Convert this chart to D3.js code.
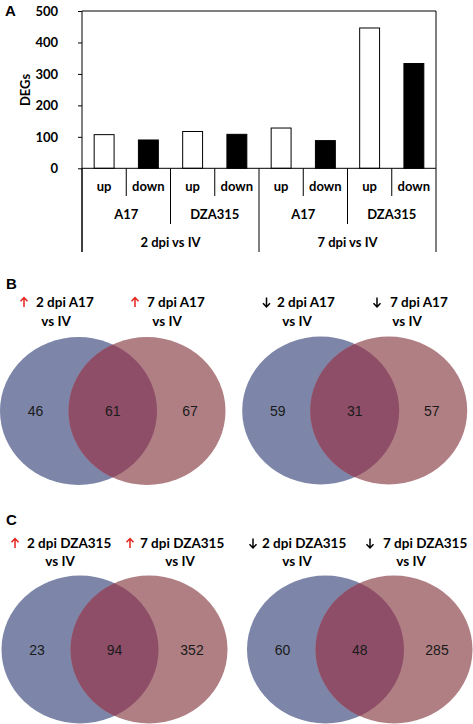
<!DOCTYPE html>
<html><head><meta charset="utf-8">
<script src="https://cdn.jsdelivr.net/npm/d3@7"></script>
<style>
html,body{margin:0;padding:0;background:#fff;}
svg{display:block;}
</style></head>
<body>
<script>
// ---------- data ----------
const directions = ["up","down","up","down","up","down","up","down"];
const cultivars = ["A17","DZA315","A17","DZA315"];
const timepoints = ["2 dpi vs IV","7 dpi vs IV"];
const degValues = [107, 90, 117, 108, 128, 88, 446, 333];
const yTicks = [0, 100, 200, 300, 400, 500];

const vennTitlesB = [["up","2 dpi A17"],["up","7 dpi A17"],["down","2 dpi A17"],["down","7 dpi A17"]];
const vennTitlesC = [["up","2 dpi DZA315"],["up","7 dpi DZA315"],["down","2 dpi DZA315"],["down","7 dpi DZA315"]];
const vennCountsB = [[46, 61, 67], [59, 31, 57]];
const vennCountsC = [[23, 94, 352], [60, 48, 285]];

(function () {
// ---------- setup ----------
const W = 473, H = 724;
const svg = d3.select("body").append("svg").attr("width", W).attr("height", H);
const labelFont = "Lato, 'Open Sans', sans-serif";
const numFont = "'Liberation Sans', Arial, sans-serif";

// ---------- panel A ----------
const pL = 82, pR = 436, pT = 11, pB = 168.3;
const x = d3.scaleBand().domain(d3.range(degValues.length)).range([pL, pR])
  .paddingInner(0.55).paddingOuter(0.275);
const y = d3.scaleLinear().domain([0, 500]).range([pB, pT]);

svg.append("text").attr("x", 5).attr("y", 16).text("A")
  .attr("font-family", "'Liberation Sans', Arial, sans-serif").attr("font-weight", "bold").attr("font-size", 15);

const gA = svg.append("g");
gA.append("line").attr("x1", pL).attr("x2", pR).attr("y1", pT).attr("y2", pT).attr("stroke", "#000");
gA.append("line").attr("x1", pR).attr("x2", pR).attr("y1", pT).attr("y2", pB).attr("stroke", "#000");

const yAxis = d3.axisLeft(y).tickValues(yTicks).tickSize(4).tickPadding(20);
const gy = gA.append("g").attr("transform", `translate(${pL},0)`).call(yAxis);
gy.select(".domain").remove();
gy.selectAll(".tick line").attr("stroke", "#000");
gy.selectAll(".tick text").attr("font-family", labelFont).attr("font-weight", "bold")
  .attr("font-size", 13).attr("fill", "#000");
gA.append("line").attr("x1", pL).attr("x2", pL).attr("y1", pT).attr("y2", 252).attr("stroke", "#000");

svg.append("text").attr("transform", `translate(29.5,90) rotate(-90)`).attr("text-anchor", "middle")
  .text("DEGs").attr("font-family", labelFont).attr("font-weight", "bold").attr("font-size", 13);

gA.selectAll("rect.bar").data(degValues).enter().append("rect").attr("class", "bar")
  .attr("x", (d, i) => x(i)).attr("width", x.bandwidth())
  .attr("y", d => y(d)).attr("height", d => y(0) - y(d))
  .attr("fill", (d, i) => directions[i] === "up" ? "#fff" : "#000")
  .attr("stroke", "#000").attr("stroke-width", 1);

gA.append("line").attr("x1", pL).attr("x2", pR).attr("y1", pB).attr("y2", pB).attr("stroke", "#000");

const step = x.step();
for (let i = 0; i <= degValues.length; i++) {
  const xx = pL + i * step;
  let y2 = 196;
  if (i % 4 === 0) y2 = 252; else if (i % 2 === 0) y2 = 224;
  gA.append("line").attr("x1", xx).attr("x2", xx).attr("y1", pB).attr("y2", y2).attr("stroke", "#000");
}
gA.selectAll("text.dir").data(directions).enter().append("text").attr("class", "dir")
  .attr("x", (d, i) => x(i) + x.bandwidth() / 2).attr("y", 191).attr("text-anchor", "middle")
  .text(d => d).attr("font-family", labelFont).attr("font-weight", "bold").attr("font-size", 13);
gA.selectAll("text.cv").data(cultivars).enter().append("text").attr("class", "cv")
  .attr("x", (d, i) => pL + (i * 2 + 1) * step).attr("y", 219).attr("text-anchor", "middle")
  .text(d => d).attr("font-family", labelFont).attr("font-weight", "bold").attr("font-size", 13);
gA.selectAll("text.tp").data(timepoints).enter().append("text").attr("class", "tp")
  .attr("x", (d, i) => pL + (i * 4 + 2) * step).attr("y", 247).attr("text-anchor", "middle")
  .text(d => d).attr("font-family", labelFont).attr("font-weight", "bold").attr("font-size", 13);

// ---------- Venn panels ----------
const blue = "#7d86a8", red = "#b07f84", mix = "#8e4e68";
const rx = 78.5, ry = 74;

function venn(id, cxBlue, cxRed, cy, counts) {
  const g = svg.append("g");
  const clipId = "clip" + id;
  g.append("clipPath").attr("id", clipId).append("ellipse")
    .attr("cx", cxRed).attr("cy", cy).attr("rx", rx).attr("ry", ry);
  g.append("ellipse").attr("cx", cxBlue).attr("cy", cy).attr("rx", rx).attr("ry", ry).attr("fill", blue);
  g.append("ellipse").attr("cx", cxRed).attr("cy", cy).attr("rx", rx).attr("ry", ry).attr("fill", red);
  g.append("ellipse").attr("cx", cxBlue).attr("cy", cy).attr("rx", rx).attr("ry", ry).attr("fill", mix)
    .attr("clip-path", `url(#${clipId})`);
  const mid = (cxBlue + cxRed) / 2;
  const xs = [cxBlue - 43, mid, cxRed + 43];
  g.selectAll("text").data(counts).enter().append("text")
    .attr("x", (d, i) => xs[i]).attr("y", cy + 5).attr("text-anchor", "middle")
    .text(d => d).attr("font-family", numFont).attr("font-size", 14).attr("fill", "#1a1a1a");
}

function arrow(cx, baseY, dir) {
  const t = baseY - 9.5, b = baseY;
  const col = dir === "up" ? "#e3231c" : "#000";
  const p = d3.path();
  p.moveTo(cx, t); p.lineTo(cx, b);
  if (dir === "up") { p.moveTo(cx - 3.5, t + 3.8); p.lineTo(cx, t); p.lineTo(cx + 3.5, t + 3.8); }
  else { p.moveTo(cx - 3.5, b - 3.8); p.lineTo(cx, b); p.lineTo(cx + 3.5, b - 3.8); }
  svg.append("path").attr("d", p.toString()).attr("fill", "none").attr("stroke", col)
    .attr("stroke-width", 1.5).attr("stroke-linejoin", "miter");
}

function titles(list, arrowX, textX, vsX, y1, y2) {
  list.forEach((t, i) => {
    arrow(arrowX[i], y1, t[0]);
    svg.append("text").attr("x", textX[i]).attr("y", y1).text(t[1])
      .attr("font-family", labelFont).attr("font-weight", "bold").attr("font-size", 13.5);
    svg.append("text").attr("x", vsX[i]).attr("y", y2).attr("text-anchor", "middle").text("vs IV")
      .attr("font-family", labelFont).attr("font-weight", "bold").attr("font-size", 13.5);
  });
}

svg.append("text").attr("x", 6).attr("y", 289).text("B")
  .attr("font-family", "'Liberation Sans', Arial, sans-serif").attr("font-weight", "bold").attr("font-size", 15);
titles(vennTitlesB, [24, 135, 266.5, 377], [36, 147, 277, 390], [56, 167, 297, 407], 307, 326);
venn("b1", 78.5, 147, 411, vennCountsB[0]);
venn("b2", 320.7, 388.7, 410.5, vennCountsB[1]);

svg.append("text").attr("x", 6).attr("y", 525).text("C")
  .attr("font-family", "'Liberation Sans', Arial, sans-serif").attr("font-weight", "bold").attr("font-size", 15);
titles(vennTitlesC, [15, 130, 253, 370], [27, 140, 262, 383], [60, 180, 297, 411], 548, 566);
venn("c1", 80, 149, 649.5, vennCountsC[0]);
venn("c2", 325.5, 394, 649.5, vennCountsC[1]);
})();
</script>
</body></html>
